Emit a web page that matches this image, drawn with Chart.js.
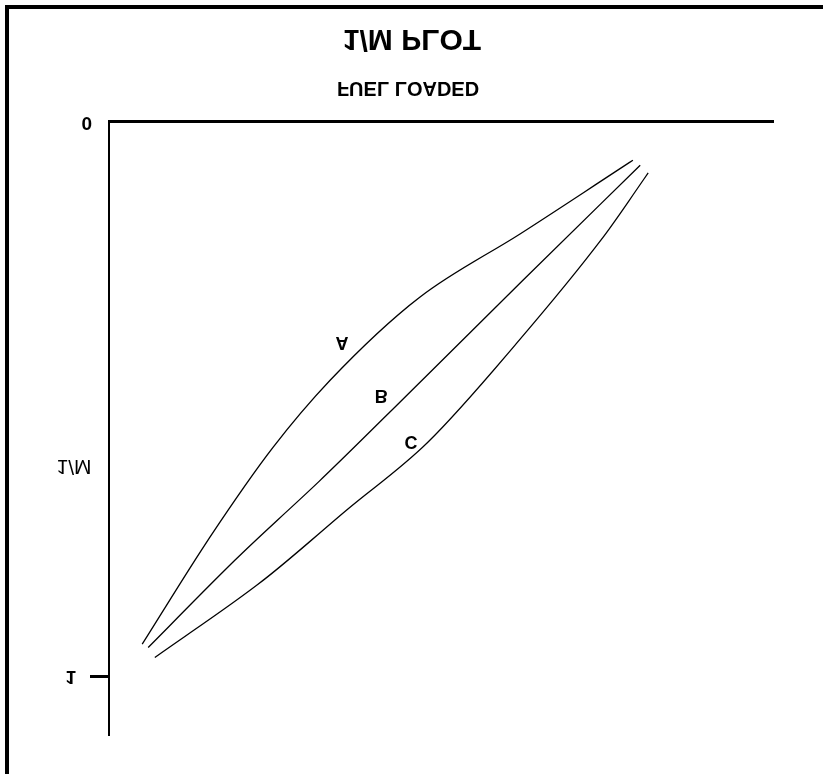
<!DOCTYPE html>
<html>
<head>
<meta charset="utf-8">
<title>1/M PLOT</title>
<script src="https://cdn.jsdelivr.net/npm/chart.js@4.4.0/dist/chart.umd.min.js"></script>
<style>
	html, body { margin: 0; padding: 0; background: #ffffff; }
	/* l'image d'origine est retournée de haut en bas */
	#plot { display: block; transform: scaleY( -1 ); }
</style>
</head>
<body>
<canvas id="plot" width="823" height="774"></canvas>
<script>
//
// Valeurs relevées sur les trois courbes :
//	abscisse = combustible chargé (0 - 100), ordonnée = 1/M.
//
const curve_names = [ "A", "B", "C" ];

const fuel_a = [ 5.0, 15.2, 24.7, 33.3, 46.8, 61.9, 78.9 ];
const inv_m_a = [ 0.942, 0.749, 0.587, 0.466, 0.316, 0.202, 0.069 ];

const fuel_b = [ 5.9, 19.7, 32.2, 47.3, 62.3, 80.0 ];
const inv_m_b = [ 0.948, 0.782, 0.642, 0.464, 0.286, 0.078 ];

const fuel_c = [ 6.9, 23.2, 35.8, 47.9, 61.4, 74.4, 81.2 ];
const inv_m_c = [ 0.966, 0.827, 0.700, 0.579, 0.399, 0.208, 0.092 ];

// repères des lettres A, B, C (en unités du graphique)
const name_fuel = [ 35.1, 41.0, 45.5 ];
const name_inv_m = [ 0.397, 0.493, 0.576 ];

const y_ticks = [ 0, 1 ];
const y_tick_labels = [ "0", "1" ];

const to_points = ( xs, ys ) => xs.map( ( x, i ) => ( { x: x, y: ys[ i ] } ) );

//
// Cadre de la feuille et textes (titre, sous-titre, nom de l'axe, lettres).
//
const frame_plugin = {
	id: "frame",
	afterDraw( chart ) {
		const ctx = chart.ctx;
		ctx.save();
		ctx.fillStyle = "#000000";
		ctx.fillRect( 5, 765, 818, 4 );
		ctx.fillRect( 5, 0, 4, 769 );
		ctx.restore();
	}
};

const text_plugin = {
	id: "texts",
	afterDraw( chart ) {
		const ctx = chart.ctx;
		const x = chart.scales.x;
		const y = chart.scales.y;
		ctx.save();
		ctx.fillStyle = "#000000";
		ctx.textAlign = "center";
		ctx.textBaseline = "middle";

		ctx.font = "bold 30px Arial";
		ctx.fillText( "1/M PLOT", 412, 736 );

		ctx.font = "bold 20px Arial";
		ctx.fillText( "FUEL LOADED", 408, 686 );

		ctx.font = "21px Arial";
		ctx.fillText( "1/M", 74, y.getPixelForValue( 0.62 ) );

		ctx.font = "bold 18px Arial";
		curve_names.forEach( ( name, i ) => {
			ctx.fillText( name, x.getPixelForValue( name_fuel[ i ] ), y.getPixelForValue( name_inv_m[ i ] ) );
		} );
		ctx.restore();
	}
};

const line_style = {
	borderColor: "#000000",
	borderWidth: 1.3,
	pointRadius: 0,
	fill: false,
	cubicInterpolationMode: "monotone"
};

const plot = document.getElementById( "plot" );

new Chart( plot,
	{
		type: "line",
		data: {
			datasets: [
				Object.assign( { label: curve_names[ 0 ], data: to_points( fuel_a, inv_m_a ) }, line_style ),
				Object.assign( { label: curve_names[ 1 ], data: to_points( fuel_b, inv_m_b ) }, line_style ),
				Object.assign( { label: curve_names[ 2 ], data: to_points( fuel_c, inv_m_c ) }, line_style )
			]
		},
		options: {
			responsive: false,
			animation: false,
			layout: {
				padding: { left: 9, right: 50, top: 39, bottom: 122 }
			},
			plugins: {
				legend: { display: false },
				tooltip: { enabled: false }
			},
			scales: {
				x: {
					type: "linear",
					min: 0,
					max: 100,
					grid: { display: false, drawTicks: false },
					ticks: { display: false },
					border: { display: true, color: "#000000", width: 3 },
					afterFit: ( scale ) => { scale.height = 0; }
				},
				y: {
					type: "linear",
					min: 0,
					max: 1.106,
					afterBuildTicks: ( scale ) => {
						scale.ticks = y_ticks.map( v => ( { value: v } ) );
					},
					afterFit: ( scale ) => { scale.width = 100; },
					grid: {
						display: true,
						drawOnChartArea: false,
						drawTicks: true,
						tickLength: 19,
						tickWidth: 3,
						tickColor: ( c ) => ( c.tick && c.tick.value === 1 ) ? "#000000" : "rgba(0,0,0,0)"
					},
					border: { display: true, color: "#000000", width: 2 },
					ticks: {
						color: "#000000",
						padding: -2,
						font: { family: "Arial", size: 19, weight: "bold" },
						// le "1" est plus loin de l'axe que le "0"
						callback: ( value, index ) => y_tick_labels[ index ] + ( value === 1 ? "   " : "" )
					}
				}
			}
		},
		plugins: [ frame_plugin, text_plugin ]
	} );
</script>
</body>
</html>
